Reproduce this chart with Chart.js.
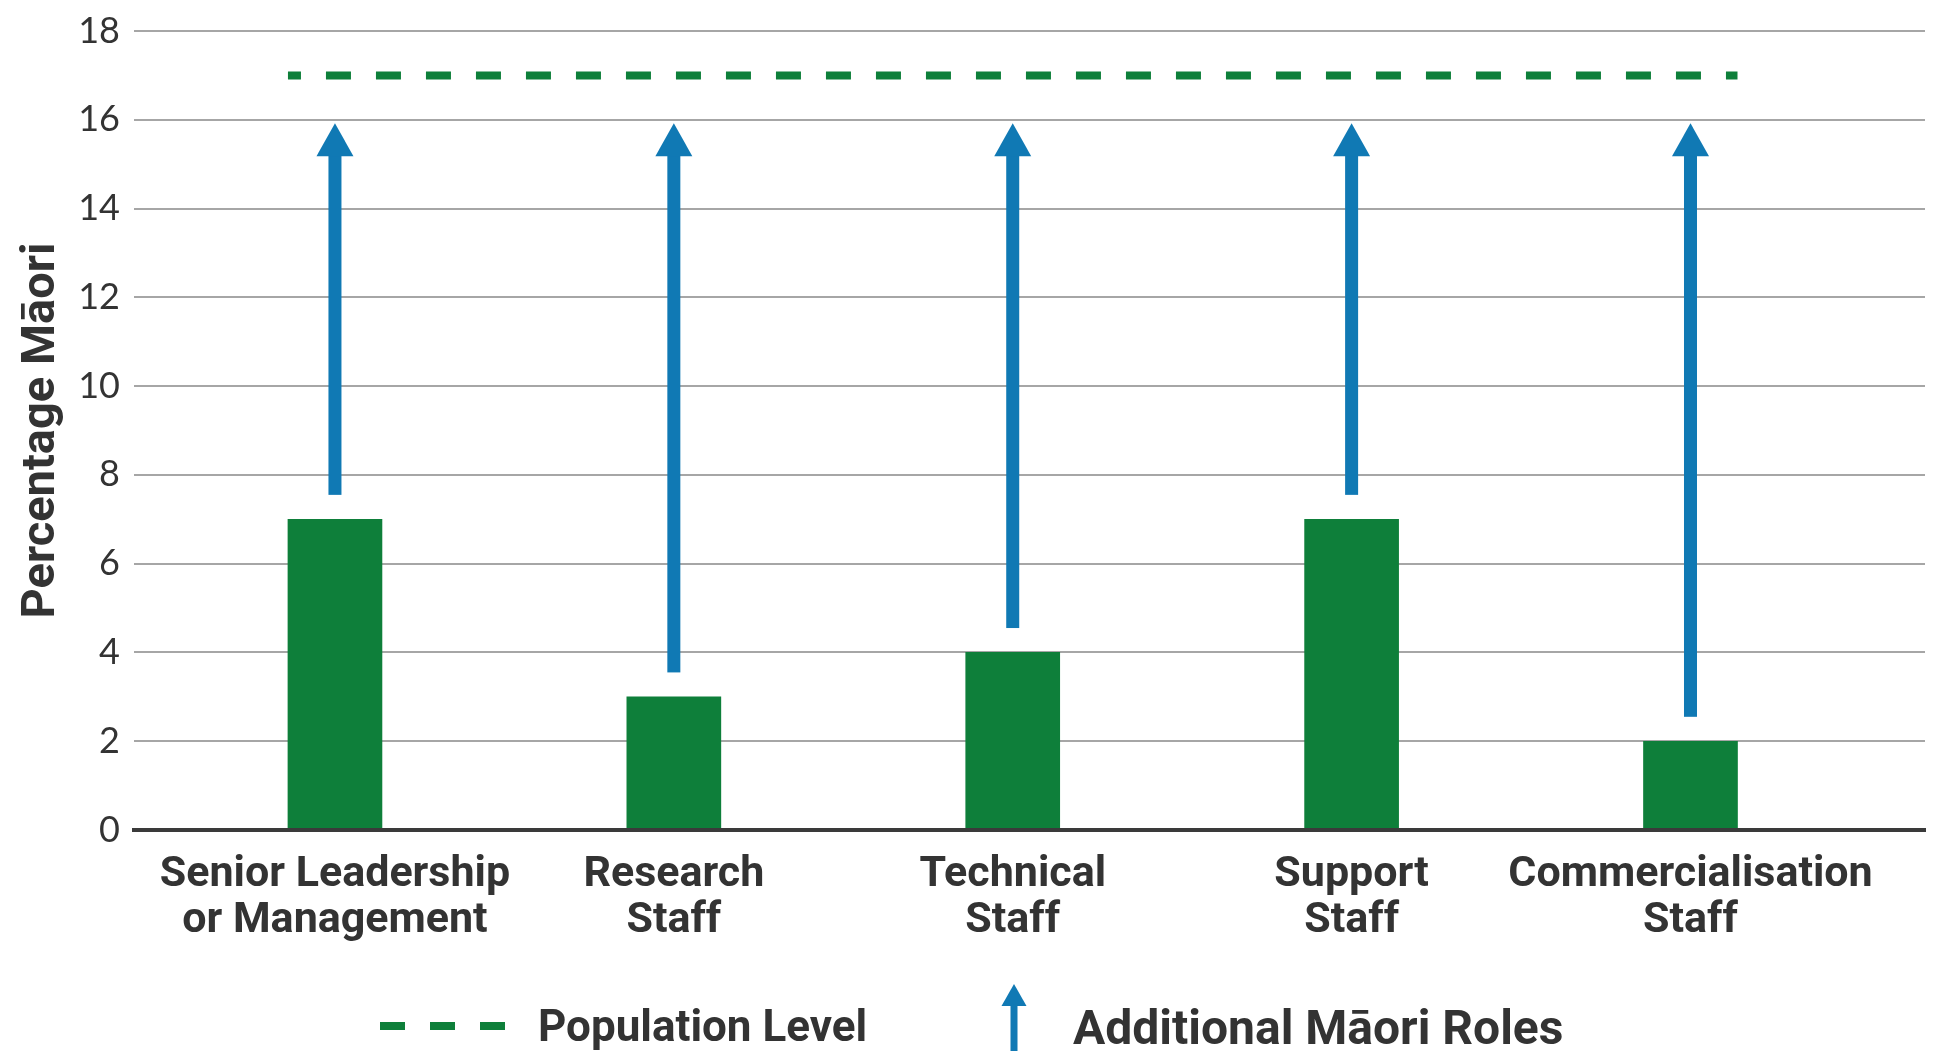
<!DOCTYPE html>
<html>
<head>
<meta charset="utf-8">
<script src="https://cdn.jsdelivr.net/npm/chart.js@4"></script>
<style>
  body { margin: 0; background: #fff; }
  #wrap { position: relative; width: 1949px; height: 1064px; }
  #legend { position: absolute; left: 0; top: 0; width: 1949px; height: 1064px; pointer-events: none;
            font-family: Roboto, "Noto Sans", sans-serif; font-weight: 700; color: #333; }
  #legend span { position: absolute; line-height: 1; white-space: nowrap; }
  #legend svg { position: absolute; }
</style>
</head>
<body>
<div id="wrap">
  <canvas id="chart"></canvas>
  <div id="legend">
    <svg style="left:370px;top:1016px" width="150" height="20">
      <line x1="10" y1="10" x2="135" y2="10" stroke="#0e7f3a" stroke-width="8" stroke-dasharray="25 25"/>
    </svg>
    <span style="left:538px;top:1004px;font-size:44px">Population Level</span>
    <svg style="left:994px;top:980px" width="40" height="76">
      <polygon points="20,4 32.5,26 7.5,26" fill="#1079b4"/>
      <rect x="16.5" y="25" width="7" height="46" fill="#1079b4"/>
    </svg>
    <span style="left:1073px;top:1004px;font-size:48px">Additional Māori Roles</span>
  </div>
</div>
<script>
// values
const categories = [
  ['Senior Leadership', 'or Management'],
  ['Research', 'Staff'],
  ['Technical', 'Staff'],
  ['Support', 'Staff'],
  ['Commercialisation', 'Staff']
];
const maoriShare = [7, 3, 4, 7, 2];
const arrowFrom = [7.55, 3.55, 4.55, 7.55, 2.55];
const arrowTo = [15.92, 15.92, 15.92, 15.92, 15.92];
const populationLevel = 17;
const yTicks = [0, 2, 4, 6, 8, 10, 12, 14, 16, 18];

const green = '#0e7f3a';
const blue = '#1079b4';

// dashed population line + arrows, drawn with the chart's scales
const extras = {
  id: 'extras',
  afterDatasetsDraw(chart) {
    const ctx = chart.ctx;
    const y = chart.scales.y;
    const bars = chart.getDatasetMeta(0).data;

    // population level
    const first = bars[0], last = bars[bars.length - 1];
    const x0 = first.x - first.width / 2;
    const x1 = last.x + last.width / 2;
    const py = y.getPixelForValue(populationLevel);
    ctx.save();
    ctx.strokeStyle = green;
    ctx.lineWidth = 8;
    ctx.setLineDash([25, 25]);
    ctx.lineDashOffset = 12;
    ctx.beginPath();
    ctx.moveTo(x0, py);
    ctx.lineTo(x1, py);
    ctx.stroke();
    ctx.restore();

    // additional roles arrows
    ctx.save();
    ctx.fillStyle = blue;
    bars.forEach((bar, i) => {
      const yb = y.getPixelForValue(arrowFrom[i]);
      const yt = y.getPixelForValue(arrowTo[i]);
      const headH = 33, headW = 37, shaftW = 13;
      ctx.fillRect(bar.x - shaftW / 2, yt + headH - 1, shaftW, yb - yt - headH + 1);
      ctx.beginPath();
      ctx.moveTo(bar.x, yt);
      ctx.lineTo(bar.x + headW / 2, yt + headH);
      ctx.lineTo(bar.x - headW / 2, yt + headH);
      ctx.closePath();
      ctx.fill();
    });
    ctx.restore();
  }
};

new Chart(document.getElementById('chart'), {
  type: 'bar',
  data: {
    datasets: [{
      data: maoriShare.map((v, i) => ({ x: i, y: v })),
      backgroundColor: green,
      barThickness: 94
    }]
  },
  options: {
    responsive: true,
    maintainAspectRatio: false,
    animation: false,
    layout: { padding: { top: 31, right: 24, left: 0, bottom: 0 } },
    plugins: { legend: { display: false }, tooltip: { enabled: false } },
    scales: {
      x: {
        type: 'linear',
        offset: false,
        min: -0.593,
        max: 4.692,
        afterBuildTicks(scale) {
          scale.ticks = categories.map((c, i) => ({ value: i }));
        },
        afterFit(scale) { scale.height = 234; },
        grid: { display: false, drawTicks: false, offset: false },
        border: { display: true, color: '#3a3a3a', width: 4, z: 1 },
        ticks: {
          autoSkip: false,
          maxRotation: 0,
          padding: 22,
          color: '#333',
          font: { family: 'Roboto', weight: 'bold', size: 43, lineHeight: 1.07 },
          callback: (v) => categories[v]
        }
      },
      y: {
        min: 0,
        max: 18,
        afterBuildTicks(scale) {
          scale.ticks = yTicks.map(v => ({ value: v }));
        },
        afterFit(scale) {
          scale.width = 134;
          scale.paddingTop = 0;
          scale.paddingBottom = 0;
        },
        grid: { color: '#a6a6a6', lineWidth: 2, drawTicks: false },
        border: { display: false },
        ticks: {
          padding: 14,
          color: '#333',
          font: { family: 'Lato', weight: 400, size: 36 }
        },
        title: {
          display: true,
          text: 'Percentage Māori',
          color: '#333',
          padding: { top: 14, bottom: 0 },
          font: { family: 'Roboto', weight: 'bold', size: 47 }
        }
      }
    }
  },
  plugins: [extras]
});
</script>
</body>
</html>
